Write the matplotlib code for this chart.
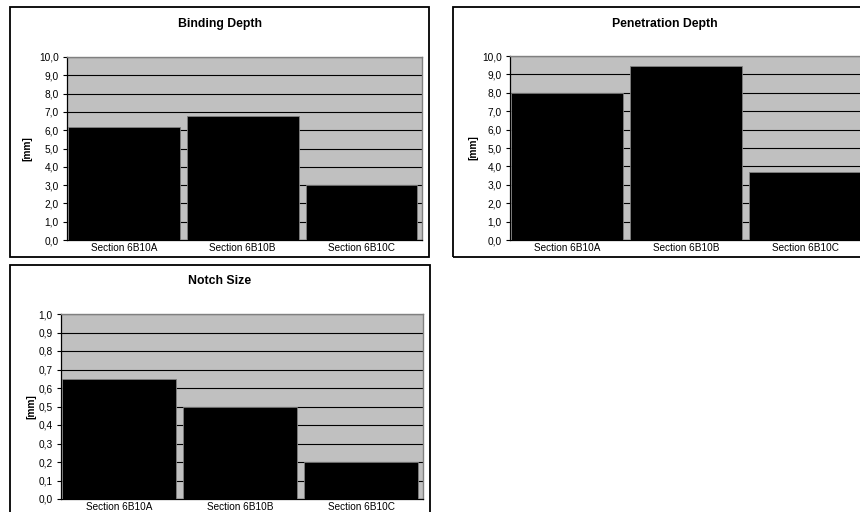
import matplotlib
matplotlib.use("Agg")
import matplotlib.pyplot as plt
from matplotlib.patches import Rectangle
from matplotlib.ticker import FuncFormatter, MultipleLocator

plt.rcParams['font.family'] = ['Liberation Sans', 'DejaVu Sans']

categories = ["Section 6B10A", "Section 6B10B", "Section 6B10C"]

binding_depth = [6.15, 6.75, 3.0]
penetration_depth = [8.0, 9.45, 3.68]
notch_size = [0.65, 0.5, 0.2]

titles = ["Binding Depth", "Penetration Depth", "Notch Size"]
ylabel = "[mm]"

W, H = 860, 512
fig = plt.figure(figsize=(W / 100, H / 100), dpi=100)
fig.patch.set_facecolor("white")


def px_axes(x0, y0, x1, y1):
    return fig.add_axes([x0 / W, (H - y1) / H, (x1 - x0) / W, (y1 - y0) / H])


def frame(x0, y0, x1, y1):
    fig.patches.append(Rectangle((x0 / W, (H - y1) / H), (x1 - x0) / W, (y1 - y0) / H,
                                 transform=fig.transFigure, fill=False,
                                 edgecolor="black", linewidth=1.3, clip_on=False))


def panel(box, plot, values, title, ymax, step, title_y, ylab_x):
    bx0, by0, bx1, by1 = box
    frame(bx0, by0, bx1, by1)
    ax = px_axes(*plot)
    ax.set_facecolor("#c0c0c0")
    ax.bar(range(len(values)), values, width=0.94, color="black",
           edgecolor="#808080", linewidth=0.6, zorder=3)
    ax.set_xlim(-0.48, 2.51)
    ax.set_ylim(0, ymax)
    ax.yaxis.set_major_locator(MultipleLocator(step))
    ax.yaxis.set_major_formatter(FuncFormatter(lambda v, p: f"{v:.1f}".replace(".", ",")))
    ax.grid(axis="y", color="black", linewidth=0.8, zorder=1)
    ax.set_axisbelow(True)
    ax.set_xticks(range(len(categories)))
    ax.set_xticklabels(categories)
    ax.tick_params(axis="x", length=0, pad=2, labelsize=7.2)
    ax.tick_params(axis="y", length=3, width=0.8, pad=3, labelsize=7.3, direction="out")
    for s in ("top", "right"):
        ax.spines[s].set_color("#808080")
        ax.spines[s].set_linewidth(1.0)
    for s in ("left", "bottom"):
        ax.spines[s].set_color("black")
        ax.spines[s].set_linewidth(0.9)
    fig.text(((bx0 + bx1) / 2) / W, (H - title_y) / H, title, ha="center", va="center",
             fontsize=8.8, fontweight="bold")
    py0, py1 = plot[1], plot[3]
    fig.text(ylab_x / W, (H - (py0 + py1) / 2) / H, ylabel, rotation=90, ha="center",
             va="center", fontsize=7.3, fontweight="bold")
    return ax


panel((10, 7, 429, 257), (67, 57, 422, 240), binding_depth, titles[0], 10, 1.0, 24.5, 27)
panel((453, 7, 877, 257), (510, 56, 866, 240), penetration_depth, titles[1], 10, 1.0, 23.5, 473)
panel((10, 265, 430, 520), (61, 314, 423, 499), notch_size, titles[2], 1.0, 0.1, 281.5, 31)

fig.savefig("out.png", dpi=100)
